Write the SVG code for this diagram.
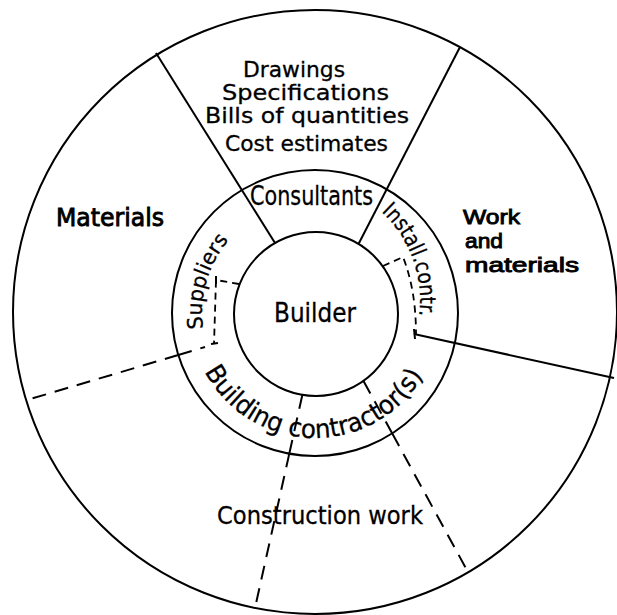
<svg xmlns="http://www.w3.org/2000/svg" width="617" height="615" viewBox="0 0 617 615">
<style>
.ln{fill:none;stroke:#000;stroke-width:2;stroke-linecap:butt}
.ds{fill:none;stroke:#000;stroke-width:2;stroke-dasharray:14 9}
.dsm{fill:none;stroke:#000;stroke-width:1.8;stroke-dasharray:7 5}
.t{font-family:"DejaVu Sans","Liberation Sans",sans-serif;fill:#000;stroke:#000;stroke-width:0.3}
.b{stroke-width:0.9}
.w{font-family:"Liberation Sans","DejaVu Sans",sans-serif}
</style>
<defs>
<path id="pSup" d="M 203.1 328.7 A 113 113 0 0 1 229.7 238.9"/>
<path id="pBld" d="M 204.6 371.7 A 125 125 0 0 0 424.3 373.6"/>
<path id="pIns" d="M 381.2 211.7 A 120 120 0 0 1 418.7 317.9"/>
</defs>
<rect width="617" height="615" fill="#fff"/>
<g id="rings">
<circle class="ln" cx="315" cy="312" r="302"/>
<circle class="ln" cx="315" cy="313" r="143"/>
</g>
<g id="connectors">
<line class="ln" x1="156" y1="53" x2="275" y2="243"/>
<line class="ln" x1="460" y1="47" x2="358.5" y2="244"/>
<line class="ln" x1="414" y1="334" x2="614" y2="378"/>
<line class="ln" x1="414" y1="329" x2="415" y2="339"/>
<line class="ds" x1="178.3" y1="355" x2="27" y2="400"/>
<line class="ds" x1="178.3" y1="355" x2="205" y2="347"/>
<line class="ds" x1="289.3" y1="453.6" x2="303" y2="392"/>
<line class="ds" x1="289.3" y1="453.6" x2="255" y2="608"/>
<line class="ds" x1="392.4" y1="433.8" x2="363" y2="380"/>
<line class="ds" x1="392.4" y1="433.8" x2="468" y2="572"/>
<path class="dsm" d="M 239 284 L 216 280 L 214 344"/>
<line class="ln" x1="211" y1="344" x2="218" y2="343"/>
<line class="ln" x1="216" y1="276" x2="216" y2="284"/>
<path class="dsm" d="M 383 266 L 403 257 Q 416 290 416 334"/>
</g>
<g id="builder">
<circle class="ln" cx="316" cy="314" r="82"/>
<text class="t" x="274" y="322" font-size="26" textLength="82" lengthAdjust="spacingAndGlyphs">Builder</text>
</g>
<g id="consultants">
<text class="t" x="250" y="205" font-size="26" textLength="123" lengthAdjust="spacingAndGlyphs">Consultants</text>
</g>
<g id="documents">
<text class="t" x="243" y="77" font-size="22" textLength="102" lengthAdjust="spacingAndGlyphs">Drawings</text>
<text class="t" x="222" y="100" font-size="22" textLength="167" lengthAdjust="spacingAndGlyphs">Specifications</text>
<text class="t" x="205" y="123" font-size="22" textLength="204" lengthAdjust="spacingAndGlyphs">Bills of quantities</text>
<text class="t" x="225" y="151" font-size="22" textLength="163" lengthAdjust="spacingAndGlyphs">Cost estimates</text>
</g>
<g id="materials">
<text class="t b" x="56" y="226" font-size="24" textLength="108" lengthAdjust="spacingAndGlyphs">Materials</text>
</g>
<g id="work-materials">
<text class="t b w" x="463" y="224" font-size="21" textLength="57" lengthAdjust="spacingAndGlyphs">Work</text>
<text class="t b w" x="465" y="248" font-size="21" textLength="38" lengthAdjust="spacingAndGlyphs">and</text>
<text class="t b w" x="465" y="272" font-size="21" textLength="114" lengthAdjust="spacingAndGlyphs">materials</text>
</g>
<g id="construction-work">
<text class="t" x="217" y="524" font-size="25" textLength="206" lengthAdjust="spacingAndGlyphs">Construction work</text>
</g>
<g id="suppliers">
<text class="t" font-size="21"><textPath href="#pSup" textLength="95" lengthAdjust="spacingAndGlyphs">Suppliers</textPath></text>
</g>
<g id="building-contractors">
<text class="t" font-size="26"><textPath href="#pBld" textLength="266" lengthAdjust="spacingAndGlyphs">Building contractor(s)</textPath></text>
</g>
<g id="install-contr">
<text class="t" font-size="22"><textPath href="#pIns" textLength="115" lengthAdjust="spacingAndGlyphs">Install.contr.</textPath></text>
</g>
</svg>
